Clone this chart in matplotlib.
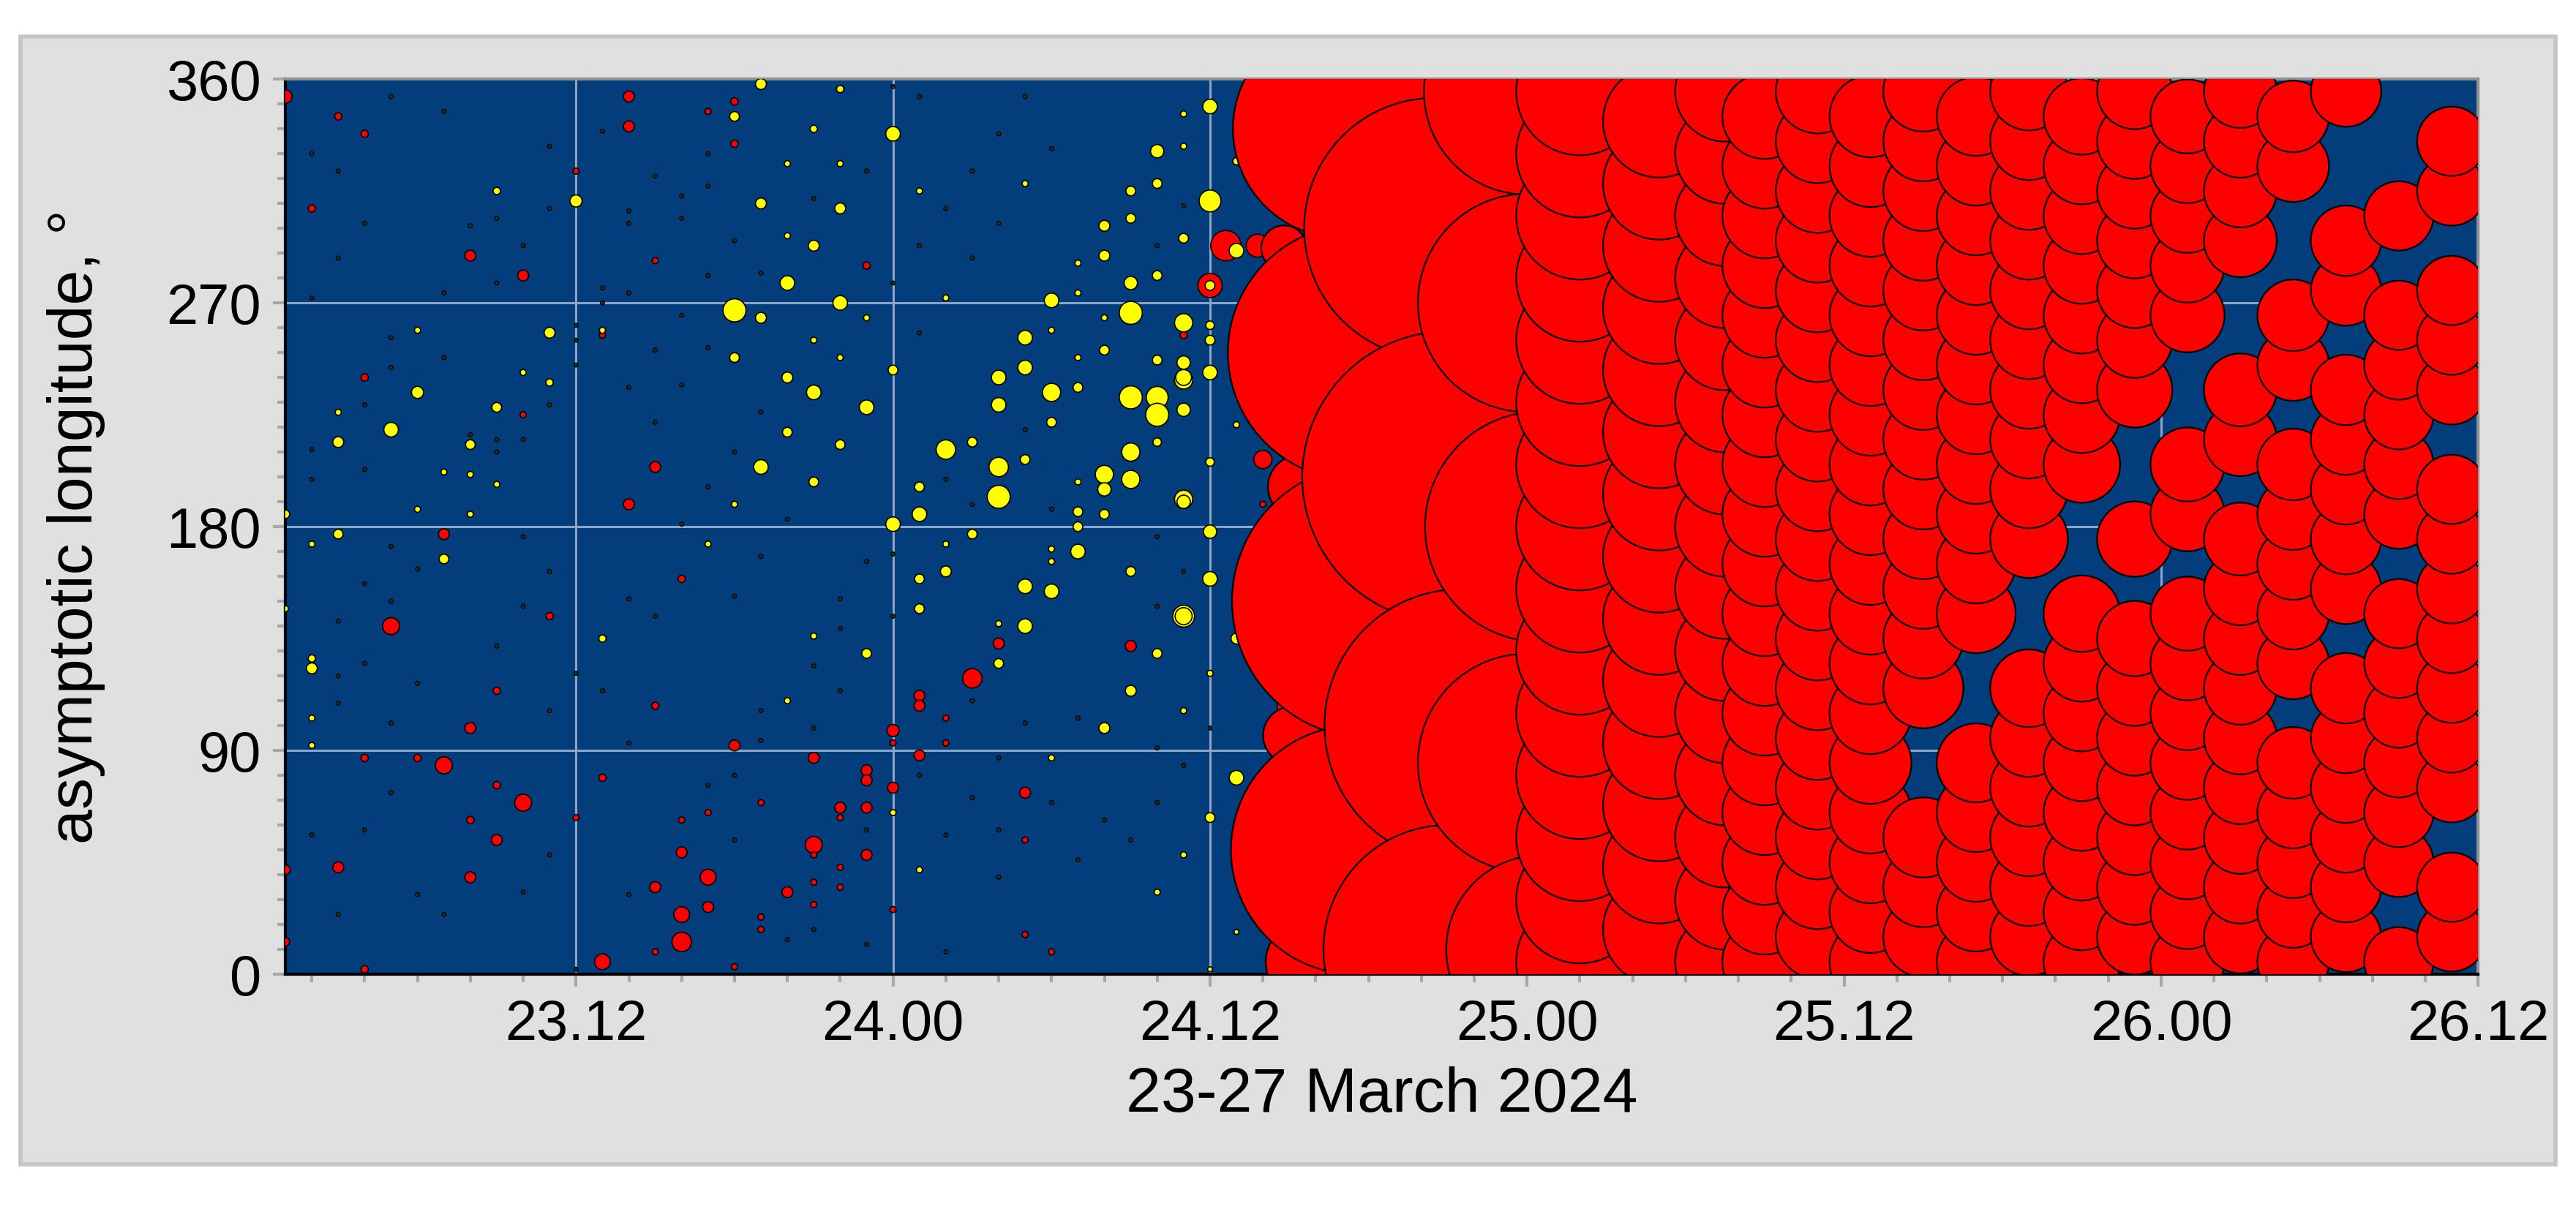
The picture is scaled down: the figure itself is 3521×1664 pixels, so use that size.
import numpy as np
import matplotlib
matplotlib.use("Agg")
import matplotlib.pyplot as plt
from matplotlib.patches import Rectangle

plt.rcParams['font.family'] = ['Liberation Sans', 'DejaVu Sans']

# hours since 23 March 00:00, asymptotic longitude (deg), amplitude
yel = [
    (19,358,18),(22,356,12),(18,345,16),(21,340,12),(24,338,24),(36,349,24),(35,346,10),(34,331,22),(35,333,10),
    (9,315,12),(12,311,20),(19,310,18),(22,308,18),(20,326,10),(22,326,10),(25,315,10),(29,318,10),(33,315,16),
    (34,318,16),(36,311,36),(32,301,18),(33,304,16),(35,296,16),(20,297,10),(21,293,18),(32,289,18),(31,286,10),
    (33,278,22),(34,281,16),(20,278,24),(22,270,24),(18,267,38),(19,264,18),(30,271,24),(31,274,10),(26,272,10),
    (33,266,38),(32,264,10),(35,262,30),(36,261,14),(6,259,10),(11,258,18),(13,259,10),(23,264,10),(21,255,10),
    (30,259,10),(29,256,24),(36,255,16),(18,248,16),(22,248,10),(24,243,16),(31,248,10),(32,251,16),(34,247,16),
    (35,246,22),(36,242,24),(28,240,24),(29,244,24),(20,240,18),(6,234,20),(10,242,10),(11,238,12),(21,234,24),
    (30,234,30),(31,236,16),(33,232,38),(34,232,36),(35,239,30),(28,229,24),(23,228,24),(9,228,16),(3,226,10),
    (5,219,24),(3,214,18),(8,213,16),(34,225,38),(35,227,22),(30,222,16),(20,218,16),(22,213,16),(27,214,16),
    (26,211,32),(33,210,30),(34,214,14),(29,207,16),(28,204,32),(19,204,24),(7,202,10),(8,201,10),(9,197,10),
    (32,201,30),(33,199,30),(31,198,10),(36,206,14),(21,198,16),(25,196,16),(28,192,38),(32,195,22),(35,191,30),
    (18,189,10),(6,187,10),(8,185,10),(1,185,14),(24,181,24),(25,185,24),(31,186,16),(32,185,16),(31,180,16),
    (36,178,22),(3,177,16),(2,173,10),(7,167,16),(17,173,10),(27,177,16),(26,173,10),(31,170,24),(30,171,10),
    (30,166,10),(33,162,16),(36,159,24),(25,159,16),(26,162,18),(29,156,24),(30,154,24),(25,147,16),(1,147,10),
    (35,144,36),(29,140,24),(28,141,10),(13,135,12),(21,136,10),(23,129,16),(28,125,16),(34,129,16),(2,123,18),
    (2,127,12),(33,114,18),(20,110,10),(2,103,10),(2,92,10),(32,99,18),(35,106,10),(36,121,10),(30,87,10),
    (24,65,10),(36,63,16),(35,48,10),(25,42,10),(34,33,10),(37,79,24),(37.8,341,30),(37,327,12),(37,291,24),
    (37,257,10),(35,240,26),(37,221,10),(35,190,22),(35,144,28),(37,135,18),(37,17,8),(36,2,8),(36,277,16),
]

red_small = [
    (1,353,22),(14,353,18),(14,341,18),(3,345,12),(4,338,12),(18,351,12),(17,347,10),(18,334,12),(2,308,12),
    (12,323,10),(8,289,18),(10,281,18),(23,285,12),(36,277,40),(36.6,293,50),(4,240,12),(10,225,10),(13,257,10),
    (15,287,10),(15,204,18),(14,189,18),(7,177,18),(35,257,12),(16,159,12),(11,144,12),(5,140,28),(28,133,18),
    (33,132,18),(27,119,32),(25,112,18),(25,108,18),(9,114,12),(15,108,12),(26,103,10),(24,98,20),(24,93,10),
    (26,93,10),(8,99,18),(4,87,12),(6,87,12),(7,84,28),(18,92,18),(21,87,18),(25,88,18),(23,82,18),(23,78,18),
    (24,75,18),(29,73,18),(9,76,12),(13,79,12),(10,69,28),(12,63,10),(8,62,12),(16,62,10),(17,65,10),(19,69,10),
    (22,67,18),(23,67,18),(22,63,10),(9,54,18),(16,49,18),(21,52,28),(21,48,10),(23,48,18),(22,43,10),(29,54,10),
    (1,42,16),(3,43,18),(8,39,18),(17,39,26),(15,35,18),(20,33,18),(21,37,10),(22,35,10),(21,28,10),(17,27,18),
    (16,24,26),(19,23,10),(19,18,10),(24,26,10),(16,13,32),(15,9,10),(1,13,14),(29,16,10),(30,9,10),(13,5,26),
    (18,3,10),(4,2,12),(38,236,30),(38,207,30),(38,189,10),(38,151,16),(38,128,40),(39,108,40),(38.8,251,30),
    (38.8,223,28),(37.8,293,38),(37.9,274,44),(38.7,47,30),(38.6,35,24),
]

dark = [
    (5,353),(7,347),(2,330),(3,323),(11,333),(13,339),(15,321),(17,330),(17,317),(16,313),(14,307),(14,302),
    (16,304),(11,308),(9,304),(8,301),(10,293),(4,302),(3,288),(2,272),(7,274),(9,278),(12,261),(12,255),
    (13,276),(13,270),(14,274),(16,265),(15,251),(17,281),(18,295),(19,282),(21,312),(23,323),(25,353),(27,323),
    (28,338),(30,332),(24,357),(29,353),(25,293),(27,288),(26,308),(28,302),(24,278),(25,258),(30,235),(34,293),
    (35,309),(5,256),(7,248),(5,244),(4,229),(2,211),(4,203),(2,199),(8,217),(9,215),(9,210),(10,215),(11,229),
    (12,245),(14,236),(16,237),(15,222),(17,252),(18,210),(17,196),(19,226),(16,181),(20,183),(26,199),(27,189),
    (29,219),(30,187),(34,176),(35,162),(10,176),(5,172),(6,163),(4,157),(3,142),(5,150),(10,148),(9,132),
    (11,162),(14,151),(15,144),(18,152),(19,168),(22,151),(23,166),(24,169),(24,144),(22,139),(21,124),(22,114),
    (19,106),(21,99),(19,94),(17,76),(18,80),(14,93),(12,121),(13,114),(11,106),(6,117),(5,101),(3,109),(3,120),
    (4,125),(5,73),(2,56),(4,58),(6,32),(3,24),(7,24),(10,33),(11,48),(12,2),(14,32),(18,54),(20,14),(21,18),
    (23,58),(23,12),(25,80),(27,71),(28,87),(30,69),(32,62),(31,103),(29,101),(34,91),(35,84),(36,99),(33,54),
    (31,46),(28,58),(26,56),(28,39),(26,9),(34,148),(34,69),(27,110),
]

# strong event: fringe and huge responses
red_front = [
    (39,355,95),(39.2,322,85),(38.8,292,75),(39,262,105),(39.2,228,95),(39.4,196,105),(39,162,85),(39.3,130,105),
    (39.1,96,95),(39.5,62,120),(39.2,30,105),(39.6,5,130),
]
red_huge = [
    (41,340,360),(41.5,250,420),(42,150,450),(41.5,50,410),(44.5,300,430),(45,200,480),(45.5,100,450),
    (45,10,410),(48,355,340),(48,270,360),(48.5,180,380),(48,85,360),(48.5,10,310),
]
colB = {
    50: ([5,30,55,80,105,130,155,180,205,230,255,280,305,330,355], 210),
    53: ([18,43,68,93,118,143,168,193,218,243,268,293,318,343], 185),
    55.5: ([5,30,55,80,105,130,155,180,205,230,255,280,305,330,355], 165),
}
colC = {
    57: ([5,25,45,65,85,105,125,145,165,185,205,225,245,265,285,305,325,345], 140),
    59: ([15,35,55,75,95,115,135,155,175,195,215,235,255,275,295,315,335,355], 138),
    61: ([5,25,45,65,85,105,125,145,165,185,205,225,245,265,285,305,325,345], 135),
    63: ([15,35,55,115,135,155,175,195,215,235,255,275,295,315,335,355], 132),
    65: ([5,25,45,65,85,145,165,185,205,225,245,265,285,305,325,345], 130),
    67: ([15,35,55,75,95,115,175,195,215,235,255,275,295,315,335,355], 128),
    69: ([5,25,45,65,85,105,125,145,205,225,245,265,285,305,325,345], 126),
    71: ([15,35,55,75,95,115,135,175,235,255,275,295,315,335,355], 124),
    73: ([5,25,45,65,85,105,125,145,185,205,265,285,305,325,345], 122),
    75: ([15,35,55,75,95,115,135,155,175,215,235,295,315,335,355], 120),
    77: ([5,25,45,65,85,125,145,165,185,205,245,265,325,345], 118),
    79: ([15,35,55,75,95,115,155,175,195,215,235,275,295,355], 116),
    81: ([5,45,65,85,105,125,145,185,205,225,245,265,305], 114),
    83: ([15,35,75,95,115,135,155,175,195,235,255,275,315,335], 114),
}

xticks = [12, 24, 36, 48, 60, 72, 84]
xlabels = ["23.12", "24.00", "24.12", "25.00", "25.12", "26.00", "26.12"]

fig = plt.figure(figsize=(35.21, 16.64), dpi=100)
fig.patches.append(Rectangle((0.008, 0.043), 0.984, 0.927, transform=fig.transFigure,
                             facecolor='#e0e0e0', edgecolor='#c4c4c4', lw=4, zorder=-10))
ax = fig.add_axes([0.1108, 0.1995, 0.8512, 0.7355])
ax.set_facecolor('#033d7c')
ax.set_axisbelow(True)
ax.grid(True, which='major', color='#8fa3c3', lw=2.2)

def pts(a):
    return (0.597 * np.asarray(a, float)) ** 2

d = np.array(dark, float)
ax.scatter(d[:, 0], d[:, 1], s=pts(np.full(len(d), 7)), c='#2a2a14', edgecolors='black', linewidths=0.8, zorder=2)
r = np.array(red_small, float)
ax.scatter(r[:, 0], r[:, 1], s=pts(r[:, 2]), c='#ff0000', edgecolors='black', linewidths=1.2, zorder=3)
y = np.array(yel, float)
ax.scatter(y[:, 0], y[:, 1], s=pts(y[:, 2]), c='#ffff00', edgecolors='black', linewidths=1.2, zorder=4)

rf = np.array(red_front, float)
ax.scatter(rf[:, 0], rf[:, 1], s=pts(rf[:, 2]), c='#ff0000', edgecolors='black', linewidths=1.6, zorder=5)
rh = np.array(red_huge, float)
ax.scatter(rh[:, 0], rh[:, 1], s=pts(rh[:, 2]), c='#ff0000', edgecolors='black', linewidths=1.6, zorder=5)
for h, (degs, amp) in list(colB.items()) + list(colC.items()):
    ax.scatter(np.full(len(degs), h), degs, s=pts(np.full(len(degs), amp)), c='#ff0000',
               edgecolors='black', linewidths=1.6, zorder=5)

ax.set_xlim(1, 84)
ax.set_ylim(0, 360)
ax.set_xticks(xticks)
ax.set_xticklabels(xlabels)
ax.set_xticks(np.arange(2, 84, 2), minor=True)
ax.set_yticks([0, 90, 180, 270, 360])
ax.set_yticks(np.arange(0, 361, 10), minor=True)
ax.tick_params(which='both', direction='out', color='#a8a8a8', width=3, labelsize=56, pad=12)
ax.tick_params(which='major', length=12)
ax.tick_params(which='minor', length=8)
for s in ax.spines.values():
    s.set_linewidth(3)
ax.spines['right'].set_color('#909090')
ax.spines['top'].set_color('#909090')
ax.set_xlabel("23-27 March 2024", fontsize=62, labelpad=14)
ax.set_ylabel("asymptotic longitude, °", fontsize=62, labelpad=60)

fig.savefig("out.png", dpi=100)
